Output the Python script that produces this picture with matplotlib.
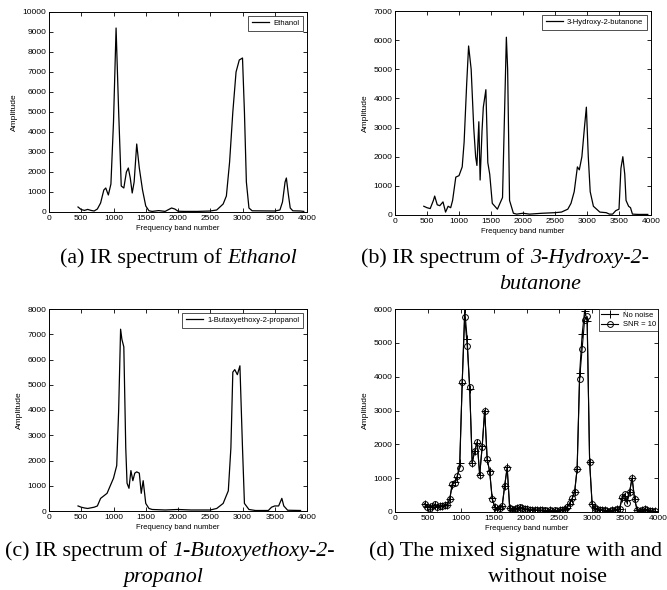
import numpy as np
import matplotlib
matplotlib.use("Agg")
import matplotlib.pyplot as plt

# ---------------- data ----------------
eth_x = [450, 500, 550, 600, 650, 700, 750, 800, 850, 880, 920, 960, 1000, 1040,
         1080, 1120, 1160, 1200, 1230, 1260, 1290, 1320, 1360, 1400, 1450, 1500,
         1550, 1600, 1700, 1750, 1800, 1900, 1950, 2000, 2100, 2300, 2500, 2600,
         2700, 2750, 2800, 2850, 2900, 2950, 3000, 3030, 3060, 3100, 3150, 3500,
         3580, 3620, 3660, 3680, 3710, 3740, 3780, 3900, 3950]
eth_y = [250, 120, 80, 130, 80, 50, 150, 450, 1100, 1200, 850, 1400, 4500, 9200,
         5000, 1300, 1200, 2000, 2200, 1700, 950, 1500, 3400, 2200, 1100, 300,
         60, 30, 70, 50, 30, 200, 150, 40, 30, 30, 50, 100,
         400, 800, 2500, 5000, 7000, 7600, 7700, 5000, 1500, 200, 60, 50,
         100, 500, 1500, 1700, 900, 200, 60, 50, 30]

hyd_x = [450, 500, 550, 600, 620, 660, 700, 750, 790, 830, 870, 900, 950, 1000,
         1050, 1080, 1120, 1150, 1190, 1230, 1260, 1280, 1310, 1330, 1360, 1380,
         1420, 1450, 1480, 1520, 1600, 1680, 1740, 1760, 1790, 1850, 1900, 2000,
         2100, 2300, 2500, 2600, 2700, 2750, 2800, 2850, 2880, 2920, 2960, 2990,
         3020, 3050, 3100, 3200, 3300, 3350, 3400, 3450, 3500, 3530, 3560, 3590,
         3610, 3650, 3680, 3710, 3800, 3950]
hyd_y = [300, 250, 220, 500, 650, 350, 320, 450, 100, 300, 250, 500, 1300, 1350,
         1650, 2500, 4500, 5800, 5000, 3000, 2000, 1700, 3200, 1200, 2900, 3700,
         4300, 1800, 1400, 400, 200, 600, 6100, 5000, 500, 60, 30, 60,
         30, 60, 80, 100, 200, 400, 800, 1650, 1550, 2000, 3000, 3700,
         2000, 800, 300, 100, 80, 30, 30, 150, 200, 1600, 2000, 1400,
         500, 300, 250, 30, 20, 20]

but_x = [450, 500, 550, 600, 700, 750, 800, 850, 900, 950, 1000, 1050, 1080, 1110,
         1130, 1160, 1190, 1210, 1240, 1270, 1300, 1330, 1360, 1400, 1430, 1460,
         1500, 1550, 1600, 1800, 2000, 2200, 2500, 2600, 2700, 2780, 2820, 2850,
         2880, 2920, 2960, 3000, 3030, 3100, 3200, 3400, 3450, 3500, 3560, 3610,
         3640, 3700, 3900]
but_y = [200, 150, 120, 100, 150, 200, 500, 600, 700, 1000, 1300, 1800, 4000, 7200,
         6800, 6500, 2500, 1100, 900, 1600, 1200, 1500, 1550, 1500, 700, 1200,
         300, 100, 60, 40, 60, 40, 40, 100, 300, 800, 2500, 5500,
         5600, 5400, 5750, 2500, 300, 60, 20, 20, 150, 200, 200, 500,
         200, 30, 20]

# mixed signature, sampled bands
mix_x = np.arange(452, 3949, 38)
mix_clean = [230, 150, 140, 160, 210, 160, 170, 180, 210, 220,
             380, 800, 880, 1040, 1450, 3800, 6000, 5100, 3650, 1450,
             1800, 2050, 1100, 1950, 3000, 1550, 1200, 400, 150, 80,
             100, 170, 780, 1320, 120, 70, 90, 110, 130, 120,
             90, 80, 70, 60, 60, 50, 50, 50, 40, 40,
             50, 40, 40, 40, 50, 60, 80, 130, 250, 390,
             590, 1270, 4100, 5250, 5950, 5650, 1480, 230, 110, 80,
             70, 60, 50, 40, 40, 50, 60, 80, 90, 400,
             480, 350, 600, 1000, 380, 60, 40, 70, 80, 60,
             40, 20, 20]
mix_noisy = [250, 150, 130, 170, 230, 140, 170, 190, 200, 210,
             370, 830, 870, 1050, 1300, 3830, 5750, 4920, 3680, 1460,
             1790, 2080, 1090, 1930, 3000, 1560, 1190, 390, 160, 60,
             110, 180, 770, 1310, 130, 80, 100, 120, 140, 120,
             90, 80, 70, 60, 70, 60, 50, 60, 50, 40,
             60, 40, 50, 40, 60, 70, 90, 140, 260, 400,
             600, 1280, 3940, 4820, 5680, 5780, 1480, 230, 110, 80,
             70, 60, 50, 40, 40, 50, 60, 80, 90, 450,
             530, 260, 590, 1010, 390, 60, 40, 70, 80, 60,
             40, 30, 20]

# ---------------- figure ----------------
plt.rcParams['font.family'] = ['Liberation Sans', 'DejaVu Sans']

W, H = 667, 590
fig = plt.figure(figsize=(W / 100, H / 100), dpi=100)


def px_axes(left, top, right, bottom):
    return fig.add_axes([left / W, 1 - bottom / H, (right - left) / W, (bottom - top) / H])


def style(ax, ymax):
    ax.set_xlim(0, 4000)
    ax.set_ylim(0, ymax)
    ax.set_xticks(np.arange(0, 4001, 500))
    ax.set_yticks(np.arange(0, ymax + 1, 1000))
    ax.tick_params(direction='in', top=True, right=True, length=3, width=0.6,
                   labelsize=6, pad=2)
    for s in ax.spines.values():
        s.set_linewidth(0.7)
    ax.set_xlabel("Frequency band number", fontsize=5.5, labelpad=2)
    ax.set_ylabel("Amplitude", fontsize=6, labelpad=3)


leg_kw = dict(loc='upper right', fontsize=5.5, frameon=True, fancybox=False,
              edgecolor='black', handlelength=2.2, borderpad=0.5, handletextpad=0.6)

ax_a = px_axes(49, 12, 307, 212)
ax_a.plot(eth_x, eth_y, color='black', lw=0.9, label='Ethanol')
style(ax_a, 10000)
ax_a.legend(**leg_kw).get_frame().set_linewidth(0.6)

ax_b = px_axes(395, 11, 651, 215)
ax_b.plot(hyd_x, hyd_y, color='black', lw=0.9, label='3-Hydroxy-2-butanone')
style(ax_b, 7000)
ax_b.legend(**leg_kw).get_frame().set_linewidth(0.6)

ax_c = px_axes(49, 309, 307, 511)
ax_c.plot(but_x, but_y, color='black', lw=0.9, label='1-Butaxyethoxy-2-propanol')
style(ax_c, 8000)
ax_c.legend(**leg_kw).get_frame().set_linewidth(0.6)

ax_d = px_axes(395, 309, 658, 512)
ax_d.plot(mix_x, mix_clean, color='black', lw=0.8, marker='+', ms=5.5, mew=0.7,
          label='No noise')
ax_d.plot(mix_x, mix_noisy, color='black', lw=0.8, marker='o', ms=4.2, mew=0.7,
          mfc='none', label='SNR = 10')
style(ax_d, 6000)
lg = ax_d.legend(loc='upper right', fontsize=5.5, frameon=True, fancybox=False,
                 edgecolor='black', handlelength=2.2, borderpad=0.3,
                 borderaxespad=0, labelspacing=0.3, handletextpad=0.6)
lg.get_frame().set_linewidth(0.6)

# ---------------- captions ----------------
CAP = 15.8
serif = ['Liberation Serif', 'DejaVu Serif']
renderer = fig.canvas.get_renderer()


def caption_line(x, y, parts, center=False):
    """parts: list of (text, italic). x is left edge, or centre if center=True."""
    widths = []
    objs = []
    for txt, it in parts:
        t = fig.text(0, 0, txt, fontsize=CAP, family=serif,
                     style='italic' if it else 'normal', va='baseline', ha='left')
        widths.append(t.get_window_extent(renderer).width)
        objs.append(t)
    total = sum(widths)
    cur = x - total / 2 if center else x
    for t, w in zip(objs, widths):
        t.set_position((cur / W, 1 - y / H))
        cur += w


caption_line(60, 263, [("(a) IR spectrum of ", False), ("Ethanol", True)])
caption_line(361, 263, [("(b) IR spectrum of ", False), ("3-Hydroxy-2-", True)])
caption_line(540, 289, [("butanone", True)], center=True)
caption_line(5, 556, [("(c) IR spectrum of ", False), ("1-Butoxyethoxy-2-", True)])
caption_line(163, 582, [("propanol", True)], center=True)
caption_line(369, 556, [("(d) The mixed signature with and", False)])
caption_line(547, 582, [("without noise", False)], center=True)

fig.savefig("out.png", dpi=100)
